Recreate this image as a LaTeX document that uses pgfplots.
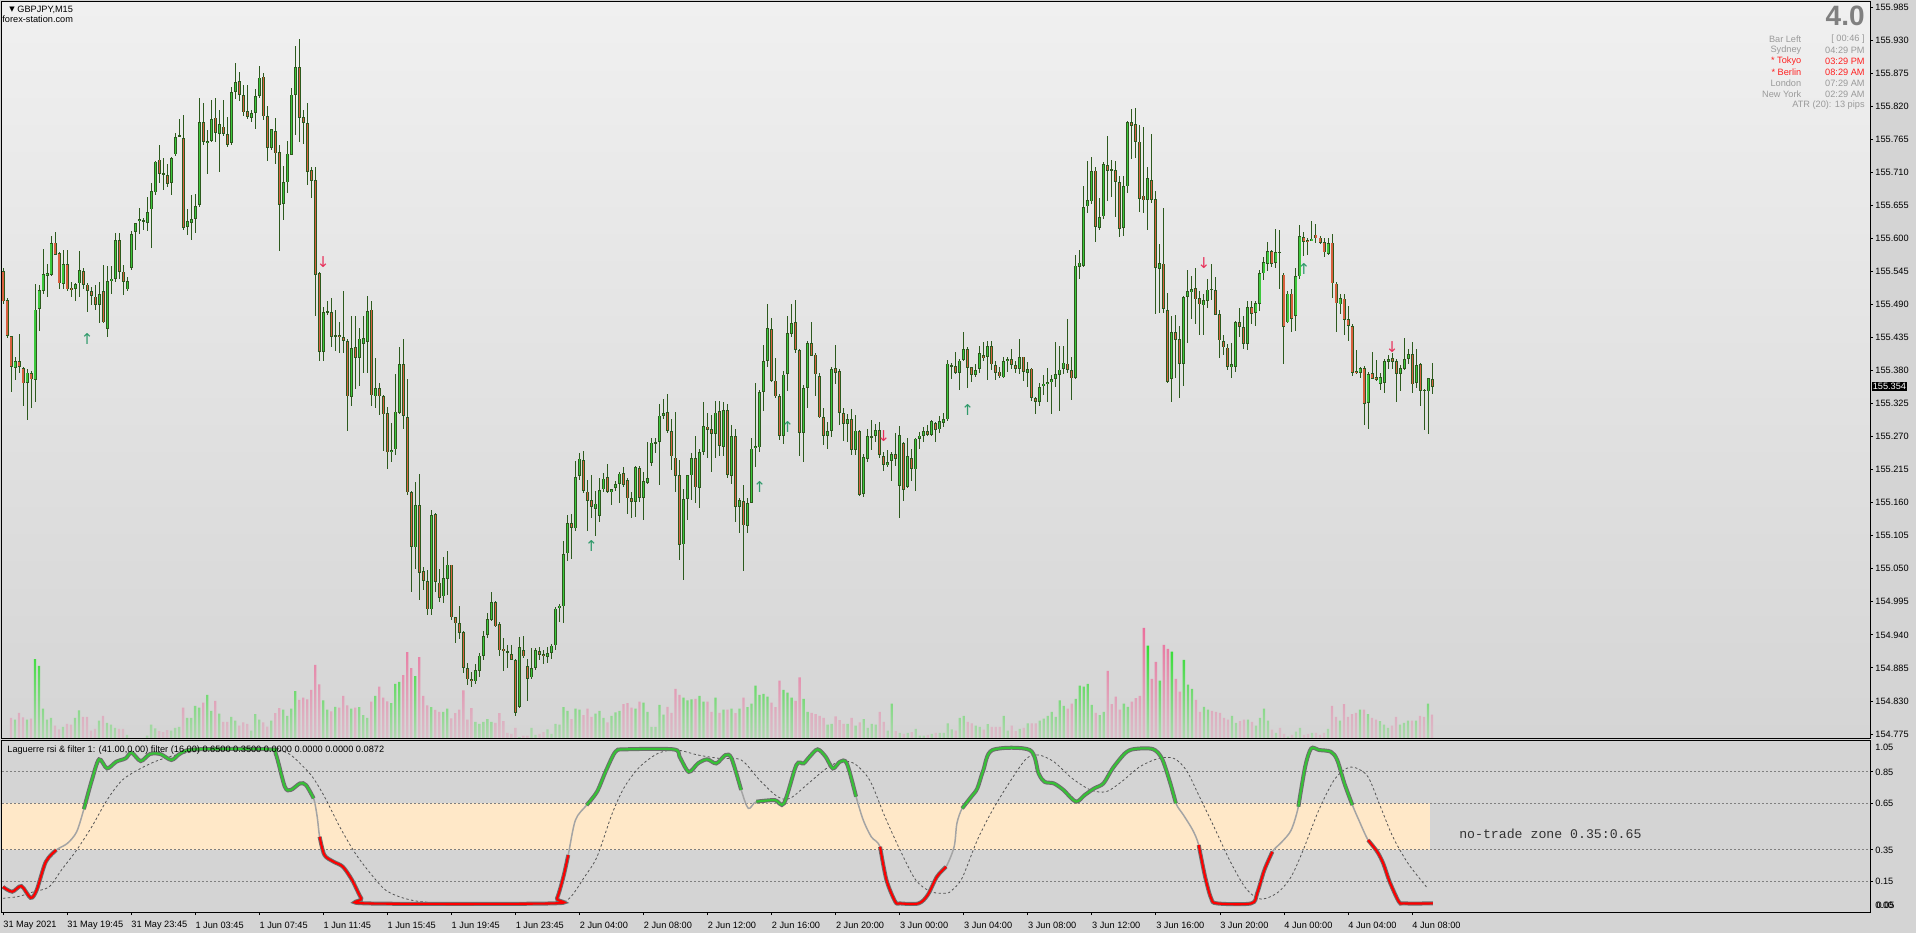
\documentclass[border=0pt]{standalone}
\usepackage{fontspec}
\setmainfont{Liberation Sans}
\newfontfamily\dejavu{DejaVu Sans}
\newfontfamily\monofont{Liberation Mono}
\usepackage{pgfplots}
\usepackage{pgfplotstable}
\pgfplotsset{compat=1.18}

\definecolor{outbg}{HTML}{D4D4D4}
\definecolor{topbg}{HTML}{F0F0F0}
\definecolor{botbg}{HTML}{D5D5D5}
\definecolor{wick}{HTML}{2D5A1E}
\definecolor{bull}{HTML}{3CC83C}
\definecolor{bear}{HTML}{D8603E}
\definecolor{volg}{HTML}{33DD33}
\definecolor{volr}{HTML}{EC6F9C}
\definecolor{zone}{HTML}{FFE8C8}
\definecolor{lvl}{HTML}{808080}
\definecolor{rsiedge}{HTML}{6E6E6E}
\definecolor{rsig}{HTML}{36C236}
\definecolor{rsir}{HTML}{FF0000}
\definecolor{rsithin}{HTML}{A4A4A4}
\definecolor{sig}{HTML}{555555}
\definecolor{infogray}{HTML}{9A9A9A}
\definecolor{infored}{HTML}{FF2020}
\definecolor{upar}{HTML}{2F9A6A}
\definecolor{dnar}{HTML}{E8305A}

\newcommand\tf{\fontsize{4.6}{5.5}\selectfont}

% GBPJPY M15 bars: index, open, high, low, close, tick volume
\pgfplotstableread{
i o h l c v
0 155.547 155.551 155.491 155.497 0
1 155.497 155.501 155.435 155.438 0
2 155.438 155.439 155.345 155.387 44
3 155.385 155.404 155.365 155.396 40
4 155.396 155.441 155.375 155.387 55
5 155.385 155.387 155.322 155.360 45
6 155.360 155.383 155.299 155.377 40
7 155.375 155.379 155.318 155.365 42
8 155.365 155.524 155.328 155.482 172
9 155.482 155.522 155.447 155.514 157
10 155.514 155.583 155.509 155.542 64
11 155.538 155.558 155.503 155.543 40
12 155.541 155.604 155.538 155.594 44
13 155.594 155.610 155.572 155.574 27
14 155.575 155.578 155.516 155.525 19
15 155.525 155.581 155.516 155.558 24
16 155.558 155.581 155.513 155.516 31
17 155.519 155.528 155.503 155.515 29
18 155.517 155.526 155.496 155.525 44
19 155.525 155.580 155.503 155.547 60
20 155.547 155.551 155.516 155.524 46
21 155.524 155.526 155.477 155.514 46
22 155.513 155.520 155.490 155.504 16
23 155.504 155.524 155.482 155.490 20
24 155.490 155.528 155.461 155.508 38
25 155.513 155.555 155.459 155.461 48
26 155.450 155.555 155.436 155.530 33
27 155.530 155.555 155.509 155.534 29
28 155.534 155.608 155.528 155.598 22
29 155.598 155.608 155.532 155.545 20
30 155.545 155.555 155.505 155.528 20
31 155.516 155.536 155.514 155.530 7
32 155.551 155.612 155.547 155.608 0
33 155.611 155.627 155.581 155.626 0
34 155.630 155.652 155.608 155.633 0
35 155.630 155.635 155.616 155.629 0
36 155.625 155.669 155.612 155.643 5
37 155.648 155.692 155.585 155.678 29
38 155.677 155.730 155.673 155.728 21
39 155.731 155.756 155.692 155.707 15
40 155.708 155.734 155.681 155.706 13
41 155.706 155.723 155.685 155.691 17
42 155.693 155.737 155.673 155.735 16
43 155.740 155.775 155.737 155.769 22
44 155.770 155.799 155.769 155.772 24
45 155.768 155.807 155.615 155.618 66
46 155.620 155.650 155.606 155.629 44
47 155.627 155.673 155.598 155.633 44
48 155.633 155.675 155.609 155.654 70
49 155.656 155.835 155.653 155.794 66
50 155.794 155.826 155.756 155.761 77
51 155.759 155.780 155.707 155.763 94
52 155.763 155.830 155.761 155.800 59
53 155.801 155.833 155.761 155.775 81
54 155.774 155.814 155.711 155.790 53
55 155.786 155.832 155.772 155.774 35
56 155.775 155.803 155.753 155.757 35
57 155.759 155.853 155.757 155.844 46
58 155.844 155.893 155.833 155.860 38
59 155.862 155.878 155.830 155.840 27
60 155.840 155.856 155.804 155.811 34
61 155.812 155.856 155.799 155.803 31
62 155.801 155.814 155.794 155.809 16
63 155.809 155.849 155.782 155.837 52
64 155.837 155.886 155.833 155.868 40
65 155.870 155.876 155.797 155.804 34
66 155.803 155.820 155.728 155.751 25
67 155.751 155.783 155.748 155.782 38
68 155.780 155.801 155.723 155.743 54
69 155.744 155.756 155.580 155.656 65
70 155.658 155.720 155.630 155.694 62
71 155.694 155.762 155.676 155.742 48
72 155.740 155.850 155.738 155.840 64
73 155.840 155.920 155.772 155.886 102
74 155.886 155.933 155.760 155.801 83
75 155.802 155.814 155.757 155.792 88
76 155.792 155.826 155.691 155.711 84
77 155.714 155.719 155.668 155.696 105
78 155.698 155.720 155.471 155.540 159
79 155.542 155.545 155.398 155.411 117
80 155.411 155.488 155.397 155.478 82
81 155.478 155.496 155.474 155.478 62
82 155.478 155.501 155.419 155.437 58
83 155.438 155.482 155.413 155.439 68
84 155.439 155.462 155.411 155.435 66
85 155.436 155.514 155.410 155.430 92
86 155.430 155.433 155.280 155.338 71
87 155.338 155.471 155.320 155.419 64
88 155.419 155.471 155.348 155.402 66
89 155.402 155.450 155.354 155.434 67
90 155.425 155.471 155.377 155.434 50
91 155.429 155.505 155.377 155.480 44
92 155.481 155.496 155.322 155.338 79
93 155.338 155.400 155.318 155.352 92
94 155.352 155.360 155.306 155.338 112
95 155.338 155.341 155.247 155.308 88
96 155.309 155.319 155.216 155.244 80
97 155.244 155.293 155.228 155.248 76
98 155.249 155.375 155.241 155.312 118
99 155.310 155.419 155.308 155.392 122
100 155.390 155.433 155.283 155.304 137
101 155.303 155.368 155.175 155.177 187
102 155.179 155.180 155.012 155.087 152
103 155.086 155.196 155.050 155.157 135
104 155.157 155.209 154.999 155.044 176
105 155.047 155.054 155.016 155.031 92
106 155.031 155.047 154.972 154.984 71
107 154.984 155.147 154.973 155.141 67
108 155.141 155.143 155.012 155.028 61
109 155.028 155.050 154.995 155.002 57
110 155.004 155.070 154.993 155.034 57
111 155.033 155.079 155.007 155.057 64
112 155.057 155.058 154.966 154.969 43
113 154.969 154.970 154.927 154.959 54
114 154.960 154.989 154.934 154.944 62
115 154.945 154.947 154.877 154.885 104
116 154.885 154.894 154.857 154.867 40
117 154.866 154.879 154.854 154.863 65
118 154.863 154.892 154.859 154.882 35
119 154.882 154.911 154.871 154.907 31
120 154.907 154.947 154.898 154.940 35
121 154.940 154.978 154.936 154.966 41
122 154.966 155.012 154.963 154.995 35
123 154.995 154.996 154.953 154.955 33
124 154.959 154.963 154.905 154.915 54
125 154.917 154.936 154.880 154.913 37
126 154.913 154.924 154.886 154.912 11
127 154.909 154.923 154.898 154.899 9
128 154.898 154.900 154.806 154.810 22
129 154.821 154.938 154.820 154.921 2
130 154.915 154.938 154.902 154.905 5
131 154.888 154.899 154.830 154.867 5
132 154.869 154.918 154.867 154.885 22
133 154.885 154.918 154.882 154.915 7
134 154.915 154.921 154.898 154.908 9
135 154.908 154.915 154.892 154.905 13
136 154.903 154.921 154.894 154.909 19
137 154.911 154.926 154.900 154.923 9
138 154.923 154.987 154.915 154.984 31
139 154.986 154.991 154.961 154.989 29
140 154.988 155.096 154.961 155.075 67
141 155.076 155.140 155.063 155.127 59
142 155.127 155.142 155.068 155.118 41
143 155.119 155.230 155.114 155.205 64
144 155.205 155.244 155.199 155.234 62
145 155.232 155.247 155.177 155.180 50
146 155.180 155.199 155.114 155.165 64
147 155.165 155.207 155.135 155.154 46
148 155.151 155.180 155.106 155.160 53
149 155.140 155.202 155.128 155.183 59
150 155.183 155.211 155.180 155.201 44
151 155.202 155.226 155.177 155.178 34
152 155.178 155.184 155.157 155.184 48
153 155.186 155.196 155.180 155.192 56
154 155.192 155.211 155.160 155.209 59
155 155.209 155.221 155.188 155.189 74
156 155.197 155.202 155.141 155.167 76
157 155.167 155.177 155.135 155.161 66
158 155.161 155.222 155.137 155.219 64
159 155.219 155.222 155.161 155.169 79
160 155.169 155.211 155.132 155.197 77
161 155.193 155.262 155.192 155.202 57
162 155.226 155.268 155.222 155.260 24
163 155.260 155.268 155.244 155.262 24
164 155.261 155.326 155.190 155.305 72
165 155.305 155.333 155.300 155.310 51
166 155.312 155.341 155.276 155.280 68
167 155.280 155.299 155.215 155.238 55
168 155.236 155.312 155.179 155.206 107
169 155.207 155.232 155.066 155.090 94
170 155.092 155.184 155.033 155.167 88
171 155.167 155.207 155.132 155.206 82
172 155.206 155.243 155.165 155.235 84
173 155.235 155.272 155.161 155.186 85
174 155.184 155.251 155.152 155.244 92
175 155.245 155.329 155.241 155.287 79
176 155.287 155.310 155.234 155.282 79
177 155.282 155.306 155.211 155.274 57
178 155.274 155.329 155.234 155.310 88
179 155.312 155.329 155.238 155.254 55
180 155.253 155.329 155.239 155.314 62
181 155.314 155.326 155.202 155.206 62
182 155.206 155.289 155.192 155.272 64
183 155.272 155.283 155.129 155.154 54
184 155.154 155.169 155.111 155.165 64
185 155.163 155.190 155.048 155.123 88
186 155.123 155.169 155.111 155.161 67
187 155.161 155.268 155.160 155.251 75
188 155.251 155.361 155.221 155.254 114
189 155.253 155.348 155.245 155.345 94
190 155.345 155.422 155.312 155.396 96
191 155.396 155.491 155.387 155.450 90
192 155.450 155.469 155.361 155.364 77
193 155.364 155.400 155.333 155.338 67
194 155.338 155.341 155.264 155.272 125
195 155.272 155.379 155.257 155.374 105
196 155.374 155.471 155.345 155.442 99
197 155.442 155.492 155.436 155.461 88
198 155.461 155.497 155.410 155.415 81
199 155.416 155.417 155.239 155.277 132
200 155.277 155.356 155.228 155.352 85
201 155.352 155.429 155.318 155.426 57
202 155.427 155.461 155.404 155.406 55
203 155.406 155.410 155.338 155.373 52
204 155.371 155.375 155.300 155.303 48
205 155.303 155.318 155.257 155.272 44
206 155.272 155.295 155.249 155.280 29
207 155.280 155.387 155.270 155.383 31
208 155.384 155.422 155.358 155.377 47
209 155.379 155.383 155.291 155.309 39
210 155.309 155.318 155.264 155.291 31
211 155.291 155.308 155.262 155.300 31
212 155.300 155.318 155.241 155.249 44
213 155.249 155.308 155.241 155.281 27
214 155.281 155.282 155.173 155.174 34
215 155.175 155.241 155.169 155.236 41
216 155.234 155.283 155.228 155.271 22
217 155.271 155.299 155.249 155.272 31
218 155.272 155.291 155.262 155.282 29
219 155.281 155.295 155.234 155.239 57
220 155.239 155.245 155.213 155.224 35
221 155.224 155.249 155.221 155.228 16
222 155.230 155.245 155.198 155.241 75
223 155.241 155.277 155.222 155.234 15
224 155.189 155.287 155.135 155.274 11
225 155.260 155.262 155.165 155.183 9
226 155.188 155.268 155.186 155.239 11
227 155.234 155.249 155.196 155.216 13
228 155.216 155.268 155.180 155.267 20
229 155.267 155.277 155.249 155.272 5
230 155.272 155.287 155.262 155.279 5
231 155.280 155.290 155.272 155.274 7
232 155.274 155.299 155.272 155.297 9
233 155.293 155.295 155.262 155.282 11
234 155.283 155.305 155.276 155.297 11
235 155.293 155.310 155.287 155.300 11
236 155.299 155.398 155.297 155.392 32
237 155.388 155.394 155.366 155.390 19
238 155.388 155.412 155.375 155.377 16
239 155.377 155.400 155.348 155.398 44
240 155.398 155.445 155.397 155.416 48
241 155.416 155.419 155.352 155.385 35
242 155.385 155.387 155.361 155.373 32
243 155.374 155.392 155.371 155.382 27
244 155.382 155.422 155.377 155.409 24
245 155.407 155.429 155.398 155.401 18
246 155.402 155.431 155.366 155.420 30
247 155.420 155.429 155.381 155.390 24
248 155.390 155.397 155.366 155.377 24
249 155.379 155.387 155.369 155.371 24
250 155.369 155.402 155.368 155.396 48
251 155.396 155.402 155.377 155.400 16
252 155.400 155.417 155.383 155.390 27
253 155.390 155.397 155.377 155.383 15
254 155.383 155.433 155.375 155.403 20
255 155.403 155.404 155.364 155.377 22
256 155.377 155.394 155.352 155.383 32
257 155.383 155.384 155.329 155.335 32
258 155.335 155.338 155.309 155.329 32
259 155.329 155.360 155.322 155.354 38
260 155.354 155.373 155.341 155.358 42
261 155.358 155.385 155.329 155.362 48
262 155.362 155.375 155.309 155.367 57
263 155.367 155.427 155.352 155.374 46
264 155.374 155.421 155.312 155.383 82
265 155.383 155.422 155.375 155.393 70
266 155.393 155.465 155.375 155.382 64
267 155.382 155.402 155.331 155.368 75
268 155.368 155.574 155.366 155.555 85
269 155.553 155.581 155.532 155.560 114
270 155.555 155.688 155.553 155.653 112
271 155.653 155.729 155.643 155.663 118
272 155.662 155.737 155.658 155.713 72
273 155.713 155.719 155.595 155.620 55
274 155.618 155.669 155.616 155.636 50
275 155.636 155.728 155.633 155.723 57
276 155.723 155.770 155.663 155.713 146
277 155.715 155.730 155.669 155.714 74
278 155.714 155.730 155.636 155.695 90
279 155.695 155.704 155.603 155.617 62
280 155.617 155.704 155.604 155.687 75
281 155.687 155.797 155.677 155.794 68
282 155.795 155.817 155.733 155.789 79
283 155.790 155.817 155.734 155.761 87
284 155.761 155.789 155.643 155.665 92
285 155.672 155.786 155.643 155.664 240
286 155.664 155.719 155.615 155.701 201
287 155.698 155.774 155.659 155.665 129
288 155.665 155.679 155.474 155.551 166
289 155.551 155.591 155.476 155.560 125
290 155.560 155.652 155.476 155.484 203
291 155.482 155.509 155.360 155.362 194
292 155.366 155.471 155.328 155.445 188
293 155.445 155.473 155.369 155.432 129
294 155.433 155.455 155.335 155.392 101
295 155.392 155.505 155.356 155.503 170
296 155.503 155.546 155.425 155.513 116
297 155.510 155.539 155.467 155.516 107
298 155.519 155.551 155.458 155.500 83
299 155.500 155.513 155.440 155.490 57
300 155.490 155.507 155.440 155.499 68
301 155.497 155.533 155.486 155.516 62
302 155.515 155.558 155.497 155.514 59
303 155.515 155.536 155.473 155.474 57
304 155.474 155.480 155.400 155.430 55
305 155.430 155.440 155.407 155.419 44
306 155.419 155.425 155.382 155.387 40
307 155.386 155.427 155.369 155.390 48
308 155.386 155.463 155.377 155.461 33
309 155.461 155.484 155.436 155.453 37
310 155.453 155.471 155.415 155.425 40
311 155.425 155.496 155.415 155.486 40
312 155.486 155.496 155.458 155.474 35
313 155.476 155.496 155.455 155.492 27
314 155.492 155.547 155.480 155.543 44
315 155.542 155.570 155.532 155.561 64
316 155.558 155.595 155.546 155.580 38
317 155.580 155.581 155.552 155.558 18
318 155.560 155.616 155.551 155.578 11
319 155.578 155.614 155.516 155.577 22
320 155.541 155.543 155.392 155.454 9
321 155.461 155.513 155.459 155.509 3
322 155.509 155.516 155.444 155.467 7
323 155.471 155.551 155.445 155.537 14
324 155.537 155.623 155.534 155.604 22
325 155.604 155.610 155.570 155.595 7
326 155.598 155.601 155.572 155.595 9
327 155.598 155.630 155.597 155.601 11
328 155.606 155.623 155.593 155.600 11
329 155.601 155.604 155.591 155.593 7
330 155.594 155.601 155.570 155.577 11
331 155.575 155.601 155.572 155.594 20
332 155.594 155.608 155.501 155.526 70
333 155.526 155.528 155.445 155.493 46
334 155.490 155.507 155.474 155.500 38
335 155.500 155.507 155.440 155.465 74
336 155.466 155.488 155.430 155.455 46
337 155.455 155.458 155.371 155.377 52
338 155.380 155.415 155.374 155.377 55
339 155.377 155.387 155.369 155.384 62
340 155.385 155.389 155.291 155.326 62
341 155.326 155.377 155.283 155.374 52
342 155.377 155.412 155.366 155.368 44
343 155.369 155.398 155.364 155.364 40
344 155.358 155.377 155.348 155.369 37
345 155.360 155.400 155.343 155.396 29
346 155.396 155.407 155.383 155.401 22
347 155.401 155.410 155.383 155.395 27
348 155.396 155.400 155.328 155.375 46
349 155.374 155.389 155.346 155.384 29
350 155.384 155.435 155.382 155.400 33
351 155.400 155.417 155.392 155.408 38
352 155.408 155.429 155.343 155.358 38
353 155.360 155.417 155.352 155.390 38
354 155.391 155.394 155.323 155.347 48
355 155.348 155.349 155.282 155.346 46
356 155.345 155.368 155.276 155.367 75
357 155.366 155.393 155.341 155.354 51
}\candles

% Laguerre RSI
\pgfplotstableread{
b r
0 0.113
2.3 0.082
4.6 0.118
6.9 0.043
8.4 0.092
10.7 0.274
13.3 0.349
16.1 0.392
18.4 0.466
20.2 0.611
22.2 0.797
24.0 0.930
26.0 0.872
28.3 0.915
30.6 0.936
32.1 0.973
34.4 0.919
36.7 0.964
39.3 0.964
42.1 0.926
44.4 0.969
48.2 0.994
66.6 0.994
68.1 0.969
70.4 0.755
71.9 0.734
74.2 0.776
75.7 0.765
77.6 0.680
78.5 0.560
79.1 0.434
80.3 0.317
82.6 0.274
84.9 0.242
87.2 0.157
89.5 0.040
91.1 0.007
137.0 0.007
138.4 0.040
140.0 0.178
141.2 0.317
143.0 0.541
145.8 0.637
148.4 0.723
150.7 0.861
153.0 0.979
155.3 0.994
167.5 0.994
169.0 0.947
171.3 0.850
173.6 0.904
175.9 0.930
178.2 0.904
180.5 0.958
182.0 0.936
184.4 0.734
186.2 0.616
188.2 0.659
192.8 0.669
195.1 0.648
198.2 0.894
200.0 0.904
201.5 0.947
203.5 0.994
205.5 0.947
207.3 0.872
209.1 0.915
210.8 0.904
213.1 0.691
214.9 0.541
216.9 0.434
219.1 0.370
220.7 0.157
222.9 0.018
224.1 0.007
228.7 0.007
231.0 0.061
233.3 0.178
235.6 0.242
237.6 0.370
238.3 0.520
239.6 0.616
241.9 0.691
243.4 0.744
244.9 0.861
247.2 0.990
256.5 0.990
258.7 0.840
260.2 0.786
262.5 0.776
264.9 0.734
268.0 0.659
270.2 0.701
272.6 0.744
274.9 0.776
277.2 0.872
280.3 0.969
282.6 0.996
287.2 0.996
289.5 0.936
291.5 0.786
293.0 0.648
294.9 0.573
297.2 0.477
298.7 0.381
300.3 0.178
301.8 0.040
303.3 0.007
311.8 0.007
313.3 0.072
315.1 0.221
317.1 0.338
319.5 0.402
321.8 0.477
323.6 0.627
325.3 0.883
326.8 1.000
328.7 0.990
331.7 0.979
333.3 0.926
335.1 0.776
337.1 0.637
338.7 0.541
341.0 0.413
343.3 0.338
344.8 0.263
346.4 0.146
348.7 0.018
350.0 0.007
357.2 0.007
}\rsi

% filter line
\pgfplotstableread{
b s
0 0.040
3.8 0.051
7.7 0.082
11.5 0.113
14.6 0.221
18.4 0.349
22.2 0.499
26.0 0.670
29.8 0.797
34.4 0.872
39.0 0.926
45.1 0.969
52.8 0.990
66.6 0.994
71.2 0.969
74.2 0.904
77.3 0.818
80.3 0.691
84.1 0.499
88.0 0.328
91.8 0.199
95.6 0.092
100.2 0.040
106.3 0.014
121.6 0.007
137.7 0.007
141.5 0.040
145.3 0.178
148.4 0.306
152.2 0.584
155.3 0.755
159.1 0.883
163.7 0.969
168.3 0.990
173.6 0.958
179.0 0.936
184.4 0.926
189.0 0.797
193.5 0.691
196.6 0.680
201.2 0.776
205.7 0.872
209.1 0.915
212.6 0.904
216.5 0.797
220.3 0.563
224.1 0.349
228.0 0.157
231.8 0.082
235.6 0.072
237.0 0.090
239.6 0.170
243.4 0.413
247.2 0.605
251.8 0.797
255.7 0.936
258.7 0.958
262.5 0.915
267.1 0.808
271.7 0.734
275.6 0.723
279.4 0.786
284.0 0.883
288.7 0.936
292.5 0.936
295.6 0.861
298.7 0.701
302.5 0.499
306.4 0.285
310.2 0.113
313.3 0.040
315.6 0.040
318.7 0.082
321.8 0.178
324.8 0.349
328.7 0.605
332.5 0.797
335.6 0.872
337.9 0.876
341.0 0.818
344.1 0.627
347.2 0.434
351.0 0.263
355.6 0.113
}\sig

\begin{document}
\begin{tikzpicture}[x=1pt,y=1pt]
\fill[outbg] (0,0) rectangle (958,466.5);
\path[use as bounding box] (0,0) rectangle (958,466.5);
\shade[top color=topbg, bottom color=botbg] (1,97.5) rectangle (935,465.5);

% volumes
\begin{axis}[at={(1pt,97.5pt)}, anchor=south west, scale only axis,
    width=934pt, height=368pt, xmin=-0.25, xmax=466.4, ymin=0, ymax=1603,
    hide axis]
  \addplot[ybar, bar width=1.15pt, bar shift=0pt, draw=none,
      top color=volg, bottom color=volg!22!botbg,
      restrict expr to domain={\thisrow{c}-\thisrow{o}}{0:1}]
      table[x=i, y=v] {\candles};
  \addplot[ybar, bar width=1.15pt, bar shift=0pt, draw=none,
      top color=volr, bottom color=volr!22!botbg,
      restrict expr to domain={\thisrow{c}-\thisrow{o}}{-1:-0.0000001}]
      table[x=i, y=v] {\candles};
\end{axis}

% price
\begin{axis}[at={(1pt,97.5pt)}, anchor=south west, scale only axis,
    width=934pt, height=368pt, xmin=-0.25, xmax=466.4,
    ymin=154.7683, ymax=155.9933,
    xtick=\empty,
    ytick={154.775,154.830,154.885,154.940,154.995,155.050,155.105,155.160,155.215,155.270,155.325,155.380,155.435,155.490,155.545,155.600,155.655,155.710,155.765,155.820,155.875,155.930,155.985},
    ytick pos=right, yticklabel pos=right, tick align=outside,
    major tick length=1.5pt, tick style={black, line width=0.4pt},
    axis line style={line width=0.5pt},
    scaled y ticks=false, clip mode=individual,
    y tick label style={font=\tf, inner sep=1pt},
    /pgf/number format/fixed, /pgf/number format/fixed zerofill,
    /pgf/number format/precision=3, /pgf/number format/1000 sep={},
    /pgf/number format/assume math mode=true]
  % wicks
  \addplot[draw=none, mark=none,
      error bars/.cd, y dir=both, y explicit, error mark=none,
      error bar style={line width=0.5pt, draw=wick, solid}]
      table[x=i, y expr={(\thisrow{h}+\thisrow{l})/2},
            y error expr={(\thisrow{h}-\thisrow{l})/2}] {\candles};
  % body outline
  \addplot[draw=none, mark=none,
      error bars/.cd, y dir=both, y explicit, error mark=none,
      error bar style={line width=1.5pt, draw=wick, solid}]
      table[x=i, y expr={(\thisrow{o}+\thisrow{c})/2},
            y error expr={max(abs(\thisrow{c}-\thisrow{o})/2,0.0009)}] {\candles};
  % bull bodies
  \addplot[draw=none, mark=none,
      restrict expr to domain={\thisrow{c}-\thisrow{o}}{0:1},
      error bars/.cd, y dir=both, y explicit, error mark=none,
      error bar style={line width=0.55pt, draw=bull, solid}]
      table[x=i, y expr={(\thisrow{o}+\thisrow{c})/2},
            y error expr={max(abs(\thisrow{c}-\thisrow{o})/2-0.0013,0)}] {\candles};
  % bear bodies
  \addplot[draw=none, mark=none,
      restrict expr to domain={\thisrow{c}-\thisrow{o}}{-1:-0.0000001},
      error bars/.cd, y dir=both, y explicit, error mark=none,
      error bar style={line width=0.55pt, draw=bear, solid}]
      table[x=i, y expr={(\thisrow{o}+\thisrow{c})/2},
            y error expr={max(abs(\thisrow{c}-\thisrow{o})/2-0.0013,0)}] {\candles};
  % signal arrows
  \addplot[upar, only marks, mark=text,
      text mark={\color{upar}\dejavu\fontsize{7.5}{7.5}\selectfont ↑}]
      coordinates {(21,155.432) (147,155.088) (189,155.186) (196,155.286) (241,155.314) (325,155.549)};
  \addplot[dnar, only marks, mark=text,
      text mark={\color{dnar}\dejavu\fontsize{7.5}{7.5}\selectfont ↓}]
      coordinates {(80,155.561) (220,155.271) (300,155.558) (347,155.419)};
  \node[anchor=west, fill=black, text=white, inner sep=0.6pt, font=\tf, xshift=0.6pt]
      at (axis cs:466.4,155.354) {155.354};
\end{axis}

% indicator
\begin{axis}[at={(1pt,10.5pt)}, anchor=south west, scale only axis,
    width=934pt, height=86pt, xmin=-0.25, xmax=466.4, ymin=-0.048, ymax=1.054,
    ytick={0.15,0.35,0.65,0.85}, ytick pos=right, yticklabel pos=right,
    xtick={0,16,...,352},
    xticklabels={31 May 2021, 31 May 19:45, 31 May 23:45, 1 Jun 03:45, 1 Jun 07:45, 1 Jun 11:45, 1 Jun 15:45, 1 Jun 19:45, 1 Jun 23:45, 2 Jun 04:00, 2 Jun 08:00, 2 Jun 12:00, 2 Jun 16:00, 2 Jun 20:00, 3 Jun 00:00, 3 Jun 04:00, 3 Jun 08:00, 3 Jun 12:00, 3 Jun 16:00, 3 Jun 20:00, 4 Jun 00:00, 4 Jun 04:00, 4 Jun 08:00},
    xtick pos=bottom, tick align=outside,
    major tick length=1.5pt, tick style={black, line width=0.4pt},
    axis line style={line width=0.5pt},
    x tick label style={font=\tf, anchor=west, inner sep=0pt, yshift=-5pt},
    y tick label style={font=\tf, inner sep=1pt},
    clip mode=individual,
    /pgf/number format/fixed, /pgf/number format/fixed zerofill,
    /pgf/number format/precision=2,
    /pgf/number format/assume math mode=true]
  \addplot[fill=zone, draw=none] coordinates {(-0.25,0.35) (356.6,0.35) (356.6,0.65) (-0.25,0.65)};
  \addplot[lvl, line width=0.5pt, dash pattern=on 1pt off 1pt] coordinates {(-0.25,0.85) (466.4,0.85)};
  \addplot[lvl, line width=0.5pt, dash pattern=on 1pt off 1pt] coordinates {(-0.25,0.65) (466.4,0.65)};
  \addplot[lvl, line width=0.5pt, dash pattern=on 1pt off 1pt] coordinates {(-0.25,0.35) (466.4,0.35)};
  \addplot[lvl, line width=0.5pt, dash pattern=on 1pt off 1pt] coordinates {(-0.25,0.15) (466.4,0.15)};
  % filter
  \addplot[sig, line width=0.4pt, dash pattern=on 1.2pt off 1.2pt, smooth] table[x=b, y=s] {\sig};
  % rsi thin
  \addplot[rsithin, line width=0.75pt, smooth] table[x=b, y=r] {\rsi};
  % coloured parts
  \foreach \dom/\col in {-1:13.4/rsir, 20.1:77.7/rsig, 79.0:141.3/rsir, 145.7:184.5/rsig, 188.1:213.2/rsig, 219.0:235.7/rsir, 239.5:293.1/rsig, 298.6:317.2/rsir, 323.5:337.2/rsig, 340.9:358/rsir} {
    \edef\tmp{\noexpand\addplot[rsiedge, line width=2pt, smooth, restrict x to domain=\dom] table[x=b, y=r] {\noexpand\rsi};
      \noexpand\addplot[\col, line width=1.05pt, smooth, restrict x to domain=\dom] table[x=b, y=r] {\noexpand\rsi};}
    \tmp
  }
  \node[anchor=west, font=\tf, inner sep=0pt] at (rel axis cs:0,1) [xshift=2.5pt, yshift=-5pt]
      {Laguerre rsi \& filter 1: (41.00,0.00) filter (16.00) 0.6500 0.3500 0.0000 0.0000 0.0000 0.0872};
  \node[anchor=west, font=\monofont\fontsize{6.6}{7}\selectfont, text=black!80, inner sep=0pt]
      at (axis cs:363.7,0.45) {no-trade zone 0.35:0.65};
  \node[anchor=west, font=\tf, inner sep=1pt] at (axis cs:466.4,1.009) [xshift=1.5pt] {1.05};
  \node[anchor=west, font=\tf, inner sep=1pt] at (axis cs:466.4,-0.004) [xshift=1.5pt] {0.00};
  \node[anchor=west, font=\tf, inner sep=1pt] at (axis cs:466.4,-0.004) [xshift=2.1pt] {0.05};
\end{axis}

% header texts
\node[anchor=center, font=\dejavu\fontsize{3.5}{4}\selectfont, inner sep=0pt] at (6,461.5) {▼};
\node[anchor=west, font=\tf, inner sep=0pt] at (8.5,461.5) {GBPJPY,M15};
\node[anchor=west, font=\tf, inner sep=0pt] at (1,457) {forex-station.com};
\node[anchor=north east, font=\bfseries\fontsize{14}{14}\selectfont, text=black!50, inner sep=0pt] at (932.5,463.5) {4.0};
\begin{scope}[every node/.style={font=\tf, inner sep=0pt, anchor=east}]
  \node[text=infogray] at (900.8,447) {Bar Left};
  \node[text=infogray] at (932.5,447) {[ 00:46 ]};
  \node[text=infogray] at (900.8,441.5) {Sydney};
  \node[text=infogray] at (932.5,441.5) {04:29 PM};
  \node[text=infored] at (900.8,436) {* Tokyo};
  \node[text=infored] at (932.5,436) {03:29 PM};
  \node[text=infored] at (900.8,430.5) {* Berlin};
  \node[text=infored] at (932.5,430.5) {08:29 AM};
  \node[text=infogray] at (900.8,425) {London};
  \node[text=infogray] at (932.5,425) {07:29 AM};
  \node[text=infogray] at (900.8,419.5) {New York};
  \node[text=infogray] at (932.5,419.5) {02:29 AM};
  \node[text=infogray] at (932.5,414) {ATR (20): 13 pips};
\end{scope}
\end{tikzpicture}
\end{document}
